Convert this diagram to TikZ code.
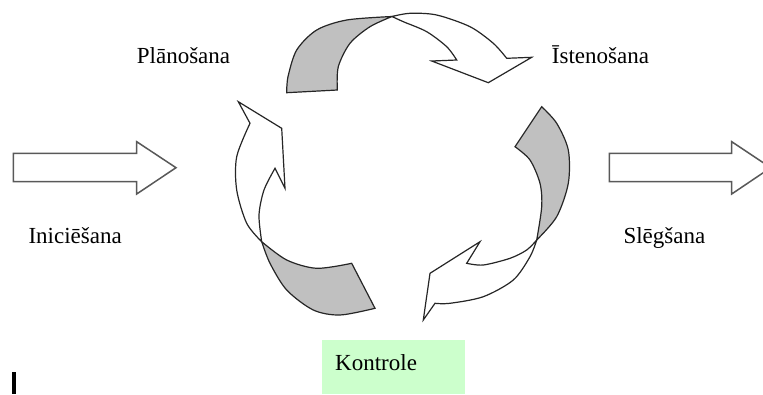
\documentclass[tikz,border=0pt]{standalone}
\usepackage{fontspec}
\setmainfont{Liberation Serif}
\definecolor{ribgray}{RGB}{192,192,192}
\definecolor{kgreen}{RGB}{204,255,204}
\begin{document}
\begin{tikzpicture}[x=1pt,y=-1pt,
  rib/.style={draw=black!85,line width=1.2pt,line join=miter},
  big/.style={draw=black!65,line width=1.5pt,fill=white},
  lbl/.style={anchor=base west,inner sep=0pt,font=\fontsize{23}{27}\selectfont}]
\useasboundingbox (0,0) rectangle (763,394);
% straight arrows
\draw[big] (13.3,153.3) -- (136.7,153.3) -- (136.7,141.7) -- (176,167.7) -- (136.7,194) -- (136.7,181.7) -- (13.3,181.7) -- cycle;
\draw[big] (609.3,153.3) -- (731.7,153.3) -- (731.7,141.7) -- (770.7,167.7) -- (731.7,194) -- (731.7,181.7) -- (609.3,181.7) -- cycle;
% top arrow
\filldraw[rib,fill=ribgray] (286.7,92.7) -- (337.3,90)
  -- plot[smooth] coordinates {(337.3,90) (338.3,66.7) (350,43.3) (370,26.7) (392,16.5)}
  -- plot[smooth] coordinates {(392,16.5) (346.7,20) (316.7,30) (296.7,50) (288,76.7) (286.7,92.7)} -- cycle;
\filldraw[rib,fill=white] plot[smooth] coordinates {(392,16.5) (410,13.3) (436.7,15) (470,26.7) (493.3,43.3) (506.7,58.3)}
  -- (531.7,57.3) -- (488.3,82.7) -- (431.7,61) -- (456.7,60)
  -- plot[smooth] coordinates {(456.7,60) (446.7,46.7) (426.7,31.7) (403.3,21.7) (392,16.5)} -- cycle;
% left arrow
\filldraw[rib,fill=white] (238.3,101.7) -- (281.7,128.3) -- (285,188.3) -- (275,168.3)
  -- plot[smooth] coordinates {(275,168.3) (264,190) (259,215) (261.7,241.7)}
  -- plot[smooth] coordinates {(261.7,241.7) (246.7,223.3) (236.7,190) (236.7,156.7) (250,123.3)} -- cycle;
\filldraw[rib,fill=ribgray] plot[smooth] coordinates {(261.7,241.7) (286.7,260) (316.7,268.3) (351.7,263.3)}
  -- (375,308.3)
  -- plot[smooth] coordinates {(375,308.3) (340,315) (313.3,310) (286.7,290) (270,263.3) (261.7,241.7)} -- cycle;
% right arrow
\filldraw[rib,fill=ribgray] (541.7,106.7) -- (515,146.7)
  -- plot[smooth] coordinates {(515,146.7) (530,160) (540,183.3) (541.7,206.7) (536.7,240)}
  -- plot[smooth] coordinates {(536.7,240) (556.7,216.7) (568.3,183.3) (568.3,150) (556.7,123.3) (541.7,106.7)} -- cycle;
\filldraw[rib,fill=white] plot[smooth] coordinates {(536.7,240) (530,256.7) (513.3,280) (483.3,296.7) (450,303.3) (435,303.3)}
  -- (423.3,320) -- (430,273.3) -- (480,241.7) -- (466.7,263.3)
  -- plot[smooth] coordinates {(466.7,263.3) (483.3,265) (510,258.3) (526.7,250) (536.7,240)} -- cycle;
% labels
\node[lbl] (plan) at (136.7,63.3) {Plānošana};
\node[lbl] (isten) at (551.7,63.3) {Īstenošana};
\node[lbl] (inic) at (28.3,243.3) {Iniciēšana};
\node[lbl] (sleg) at (623.3,243.3) {Slēgšana};
\node[fill=kgreen,anchor=north west,inner sep=0pt,minimum width=143.3pt,minimum height=54pt] (kbox) at (321.7,340) {};
\node[lbl] (kontr) at (335,370) {Kontrole};
% cursor bar
\fill[black] (12,372) rectangle (16,394);
\end{tikzpicture}
\end{document}
